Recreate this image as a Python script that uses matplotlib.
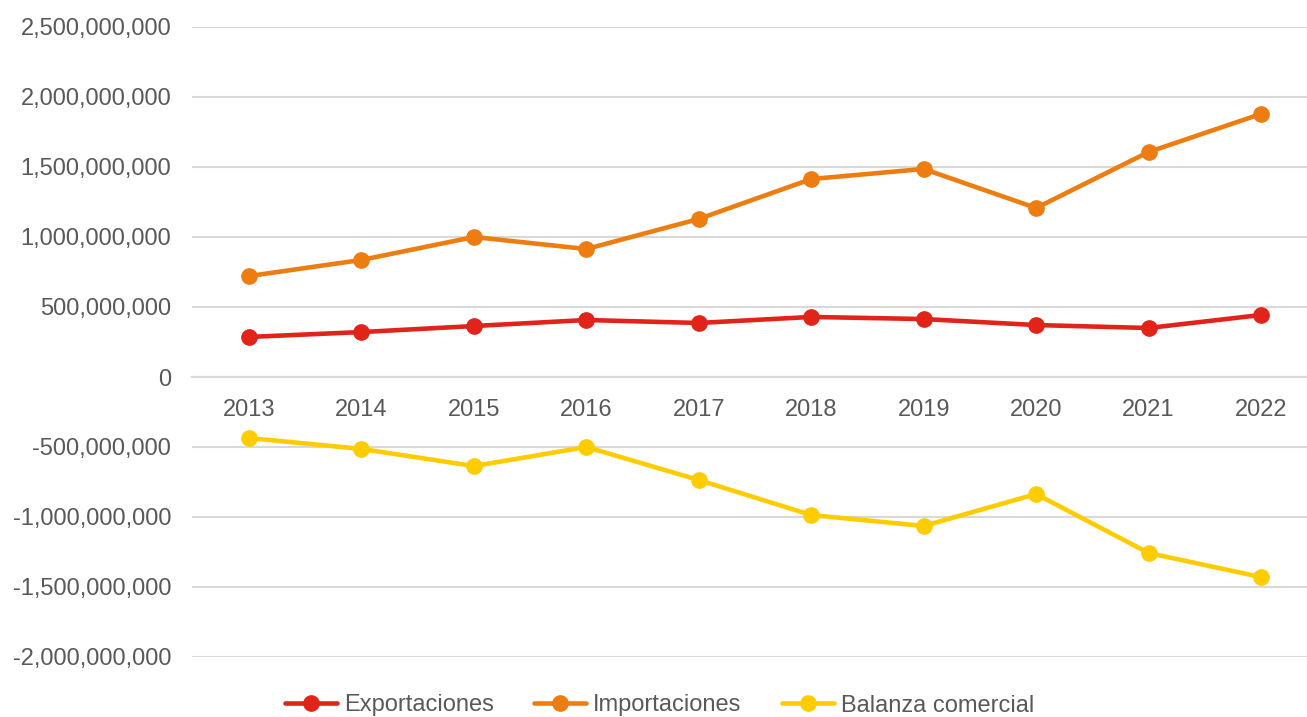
import matplotlib.pyplot as plt
from matplotlib.ticker import FuncFormatter

plt.rcParams['font.family'] = ['Liberation Sans', 'DejaVu Sans']

years = [2013, 2014, 2015, 2016, 2017, 2018, 2019, 2020, 2021, 2022]
exportaciones = [286e6, 321e6, 364e6, 407e6, 386e6, 429e6, 414e6, 371e6, 350e6, 443e6]
importaciones = [721e6, 836e6, 1000e6, 914e6, 1129e6, 1414e6, 1486e6, 1207e6, 1607e6, 1879e6]
balanza = [-436e6, -514e6, -636e6, -500e6, -736e6, -986e6, -1064e6, -836e6, -1257e6, -1429e6]

series = [
    ('Exportaciones', exportaciones, '#E2231A'),
    ('Importaciones', importaciones, '#EE7D11'),
    ('Balanza comercial', balanza, '#FFCC00'),
]

W, H = 1307, 717
fig = plt.figure(figsize=(W / 100, H / 100), dpi=100)
ax = fig.add_axes([192 / W, 60 / H, (W - 192) / W, 630 / H])

for label, vals, col in series:
    ax.plot(years, vals, color=col, lw=3.3, marker='o', markersize=11, label=label,
            solid_capstyle='round', zorder=3)

ax.set_ylim(-2e9, 2.5e9)
ax.set_xlim(2013 - 57 / 112.44, 2022 + 46 / 112.44)
ax.set_yticks(range(-2000000000, 2500000001, 500000000))
ax.set_xticks(years)
ax.yaxis.set_major_formatter(FuncFormatter(lambda v, p: f'{int(v):,}'))

ax.grid(axis='y', color='#D9D9D9', lw=1.5, zorder=0)
for s in ['top', 'right', 'left']:
    ax.spines[s].set_visible(False)
ax.spines['bottom'].set_position(('data', 0))
ax.spines['bottom'].set_color('#D9D9D9')
ax.spines['bottom'].set_linewidth(1.5)
ax.tick_params(axis='both', length=0, labelsize=17, labelcolor='#595959')
ax.tick_params(axis='y', pad=15)
ax.tick_params(axis='x', pad=15.5)

handles, labels = ax.get_legend_handles_labels()
fig.legend(handles, labels, loc='center', bbox_to_anchor=(659.5 / W, 11.5 / H), ncol=3,
           frameon=False, fontsize=17, handlelength=2.2, handletextpad=0.3,
           columnspacing=1.7, labelcolor='#595959', borderaxespad=0, borderpad=0)

fig.savefig('out.png', dpi=100)
